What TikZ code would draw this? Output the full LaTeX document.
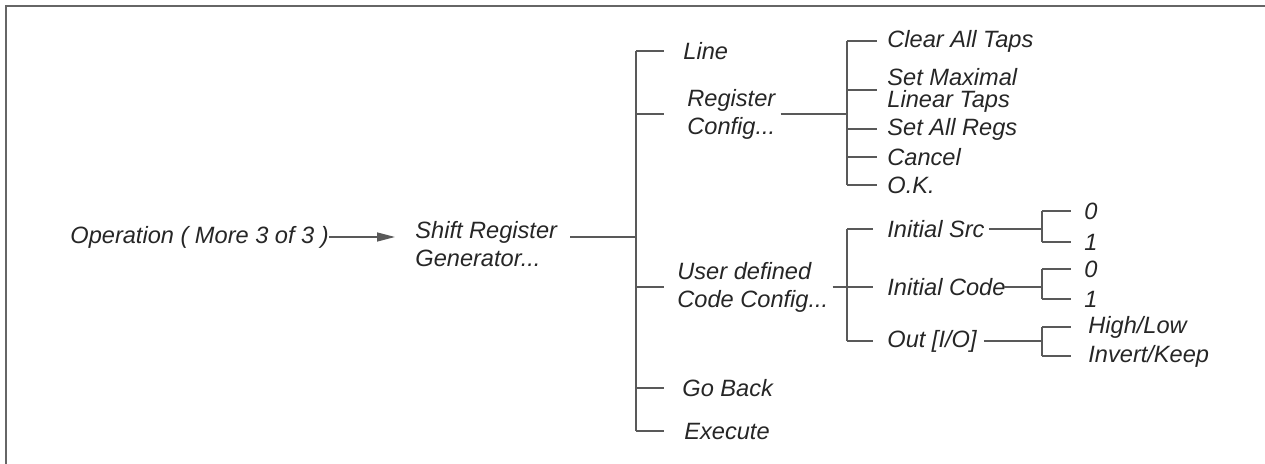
\documentclass[tikz,border=0pt]{standalone}
\usepackage{fontspec}
\setmainfont{Liberation Sans}
\usetikzlibrary{arrows.meta,calc}

\begin{document}
\begin{tikzpicture}[x=0.5pt,y=-0.5pt,font=\fontsize{11.8}{14}\selectfont\itshape,
  item/.style={anchor=west,inner sep=0pt,align=left,text=black!85},
  wire/.style={draw=black!65,line width=0.7pt}]
 \useasboundingbox (0,0) rectangle (1265,464);
 \draw[black!60,line width=1.2pt] (1265,6)--(6,6)--(6,464);
 % menu entries
 \node[item] (op) at (70,237) {Operation ( More 3 of 3 )};
 \node[item] (srg) at (415,244) {Shift Register\\Generator...};
 \node[item] (ln) at (683,51) {Line};
 \node[item] (reg) at (687,114) {Register\\Config...};
 \node[item] (usr) at (677,287) {User defined\\Code Config...};
 \node[item] (gob) at (682,388) {Go Back};
 \node[item] (exe) at (684,431) {Execute};
 \node[item] (clr) at (887,41) {Clear All Taps};
 \node[item] (smx) at (887,90) {Set Maximal\\[-3pt]Linear Taps};
 \node[item] (sar) at (887,129) {Set All Regs};
 \node[item] (can) at (887,157) {Cancel};
 \node[item] (ok) at (887,185) {O.K.};
 \node[item] (isrc) at (887,229) {Initial Src};
 \node[item] (icode) at (887,287) {Initial Code};
 \node[item] (oio) at (887,341) {Out [I/O]};
 \node[item] (s0) at (1084,211) {0};
 \node[item] (s1) at (1084,242) {1};
 \node[item] (c0) at (1084,269) {0};
 \node[item] (c1) at (1084,299) {1};
 \node[item] (hl) at (1088,327) {High/Low};
 \node[item] (ik) at (1088,356) {Invert/Keep};
 % bars
 \coordinate (b1) at (636,237); \coordinate (e1) at (664,237);
 \coordinate (b2) at (847,0); \coordinate (e2) at (877,0); \coordinate (e3) at (873,0);
 \coordinate (b4) at (1042,0); \coordinate (e4) at (1071,0);
 \draw[wire,-{Triangle[length=9pt,width=4.5pt]},shorten >=10pt] (op.east) -- (op.east -| srg.west);
 \draw[wire] ([xshift=6.5pt]srg.east |- b1) -- (b1);
 \draw[wire] (b1 |- ln.west) -- (b1 |- exe.west);
 \foreach \n in {ln,reg,usr,gob,exe} \draw[wire] (b1 |- \n.west) -- (e1 |- \n.west);
 \draw[wire] ([xshift=2.5pt]reg.east) -- (b2 |- reg.east);
 \draw[wire] (b2 |- clr.west) -- (b2 |- ok.west);
 \foreach \n in {clr,smx,sar,can,ok} \draw[wire] (b2 |- \n.west) -- (e2 |- \n.west);
 \draw[wire] ([xshift=2pt]usr.east) -- (b2 |- usr.east);
 \draw[wire] (b2 |- isrc.west) -- (b2 |- oio.west);
 \foreach \n in {isrc,icode,oio} \draw[wire] (b2 |- \n.west) -- (e3 |- \n.west);
 \draw[wire] ([xshift=2pt]isrc.east) -- (b4 |- isrc.east);
 \draw[wire] ([xshift=-1pt]icode.east) -- (b4 |- icode.east);
 \draw[wire] ([xshift=3.5pt]oio.east) -- (b4 |- oio.east);
 \draw[wire] (b4 |- s0.west) -- (b4 |- s1.west) (b4 |- c0.west) -- (b4 |- c1.west) (b4 |- hl.west) -- (b4 |- ik.west);
 \foreach \n in {s0,s1,c0,c1,hl,ik} \draw[wire] (b4 |- \n.west) -- (e4 |- \n.west);
\end{tikzpicture}
\end{document}
